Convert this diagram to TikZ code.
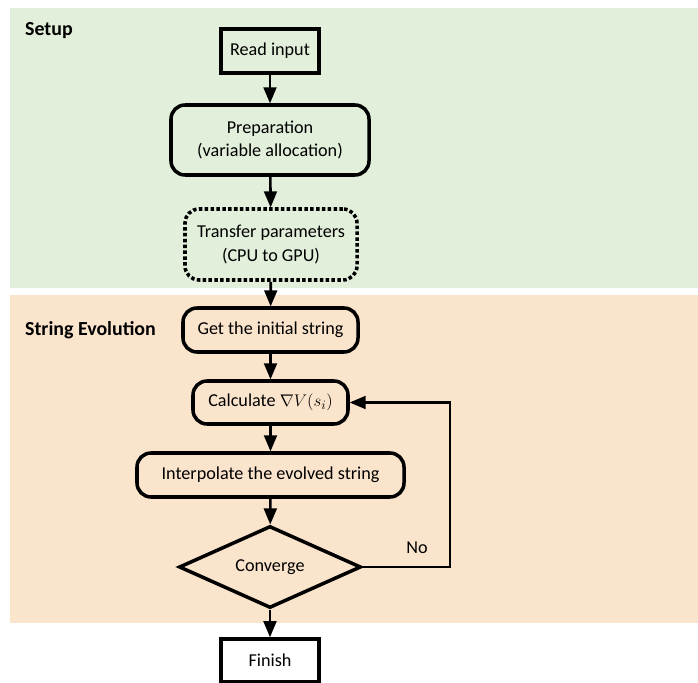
\documentclass[tikz,border=0pt]{standalone}
\usepackage{fontspec}
\setmainfont{Carlito}
\usepackage{amsmath}
\usetikzlibrary{arrows, shapes.geometric}
\definecolor{setupgreen}{HTML}{E2EFDA}
\definecolor{evolorange}{HTML}{FBE4CC}

\tikzset{
    box/.style={draw, line width=3.2pt, inner sep=0pt, align=center},
    roundbox/.style={box, rounded corners=12pt, line width=3pt},
    dotbox/.style={roundbox, dotted, line width=3pt},
    flowarrow/.style={-triangle 45, line width=2.2pt}
}

\begin{document}
\begin{tikzpicture}[x=0.03cm, y=-0.03cm, font=\fontsize{15.5}{20}\selectfont]
        \useasboundingbox (0,0) rectangle (698,683);
        % panels
        \fill[setupgreen] (10,8) rectangle (698,288);
        \fill[evolorange] (10,295) rectangle (698,623);
        \node[anchor=west, font=\fontsize{17}{20}\selectfont\bfseries] (setup) at (21,31) {Setup};
        \node[anchor=west, font=\fontsize{17}{20}\selectfont\bfseries] (evol) at (21,330) {String Evolution};

        % flow
        \node[box, minimum width=2.94cm, minimum height=1.32cm] (read) at (270,51) {Read input};
        \node[roundbox, minimum width=5.94cm, minimum height=2.1cm] (prep) at (270,140) {Preparation\\(variable allocation)};
        \node[dotbox, minimum width=5.16cm, minimum height=2.13cm] (transfer) at (271,244.5) {Transfer parameters\\(CPU to GPU)};
        \node[roundbox, minimum width=5.25cm, minimum height=1.32cm] (getstring) at (270.5,330) {Get the initial string};
        \node[roundbox, minimum width=4.65cm, minimum height=1.29cm] (calc) at (270.5,402.5) {Calculate $\nabla V(s_i)$};
        \node[roundbox, minimum width=8.01cm, minimum height=1.32cm] (interp) at (270.5,475) {Interpolate the evolved string};
        \node[diamond, draw, line width=3pt, inner sep=0pt, aspect=2.2, minimum width=5.46cm, minimum height=2.46cm] (conv) at (270,567) {Converge};
        \node[box, minimum width=2.94cm, minimum height=1.29cm] (finish) at (270,660.5) {Finish};
        \coordinate (loop) at (450,567);

        \draw[flowarrow] (read) -- (prep);
        \draw[flowarrow] (prep) -- (transfer);
        \draw[flowarrow] (transfer) -- (getstring);
        \draw[flowarrow] (getstring) -- (calc);
        \draw[flowarrow] (calc) -- (interp);
        \draw[flowarrow] (interp) -- (conv);
        \draw[flowarrow] (conv) -- (finish);
        \draw[flowarrow] (conv.east) -- (loop) |- (calc.east);
        \node (no) at (417,548) {No};
    \end{tikzpicture}
\end{document}
